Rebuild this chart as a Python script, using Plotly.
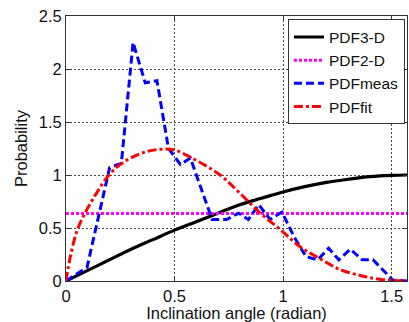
import plotly.graph_objects as go

# Inclination angle samples (radian) and probability densities
x_3d = [0.0, 0.1, 0.2, 0.3, 0.4, 0.5, 0.6, 0.7, 0.8, 0.9, 1.0, 1.1, 1.2, 1.3, 1.4, 1.5, 1.5708]
pdf_3d = [0.0, 0.10, 0.20, 0.30, 0.39, 0.48, 0.56, 0.64, 0.72, 0.78, 0.84, 0.89, 0.93, 0.96, 0.985, 0.997, 1.0]

x_2d = [0.0, 1.5708]
pdf_2d = [0.6366, 0.6366]

x_meas = [0.0, 0.097, 0.201, 0.255, 0.309, 0.365, 0.419, 0.472, 0.527, 0.573, 0.673,
          0.740, 0.795, 0.840, 0.888, 0.940, 0.995, 1.050, 1.105, 1.160, 1.210, 1.257,
          1.310, 1.364, 1.414, 1.505, 1.5708]
pdf_meas = [0.0, 0.13, 1.07, 1.11, 2.25, 1.87, 1.89, 1.25, 1.10, 1.16, 0.58,
            0.58, 0.64, 0.58, 0.72, 0.58, 0.65, 0.42, 0.23, 0.20, 0.31, 0.20,
            0.30, 0.20, 0.20, 0.01, 0.0]

x_fit = [0.0, 0.02, 0.05, 0.09, 0.135, 0.19, 0.25, 0.34, 0.42, 0.50, 0.58, 0.71,
         0.80, 0.895, 0.99, 1.08, 1.17, 1.26, 1.36, 1.45, 1.5708]
pdf_fit = [0.0, 0.23, 0.47, 0.65, 0.81, 0.98, 1.10, 1.20, 1.24, 1.235, 1.16, 1.0,
           0.83, 0.64, 0.48, 0.32, 0.21, 0.11, 0.05, 0.015, 0.0]

x_ticks = [0, 0.5, 1, 1.5]
y_ticks = [0, 0.5, 1, 1.5, 2, 2.5]

FONT = "Arial, Liberation Sans, sans-serif"
TEXT = "#111"

fig = go.Figure()
fig.add_trace(go.Scatter(x=x_3d, y=pdf_3d, mode="lines", name="PDF3-D",
                         line=dict(color="black", width=3.2, shape="spline")))
fig.add_trace(go.Scatter(x=x_2d, y=pdf_2d, mode="lines", name="PDF2-D",
                         line=dict(color="#ff00ff", width=3, dash="3px,2px")))
fig.add_trace(go.Scatter(x=x_meas, y=pdf_meas, mode="lines", name="PDFmeas",
                         line=dict(color="#0000ff", width=3, dash="8px,4px")))
fig.add_trace(go.Scatter(x=x_fit, y=pdf_fit, mode="lines", name="PDFfit",
                         line=dict(color="#ff0000", width=3, shape="spline",
                                   dash="9px,3px,3px,3px")))

axis_common = dict(
    showline=True, linecolor="#333", linewidth=1, mirror="ticks",
    ticks="inside", ticklen=4, tickcolor="#333",
    showgrid=True, gridcolor="#444", gridwidth=1, griddash="2px,2px",
    zeroline=False, tickfont=dict(family=FONT, size=16.5, color=TEXT),
)

fig.update_xaxes(range=[0, 1.5708], tickvals=x_ticks, ticktext=["0", "0.5", "1", "1.5"],
                 title=dict(text="Inclination angle (radian)",
                            font=dict(family=FONT, size=16.5, color=TEXT), standoff=4),
                 **axis_common)
fig.update_yaxes(range=[0, 2.5], tickvals=y_ticks, ticktext=["0", "0.5", "1", "1.5", "2", "2.5"],
                 title=dict(text="Probability",
                            font=dict(family=FONT, size=16.5, color=TEXT), standoff=6),
                 **axis_common)

fig.update_layout(
    width=409, height=322,
    margin=dict(l=66, r=2, t=16, b=41),
    paper_bgcolor="white", plot_bgcolor="white",
    font=dict(family=FONT, size=16.5, color=TEXT),
    legend=dict(x=0.994, y=0.987, xanchor="right", yanchor="top",
                bgcolor="white", bordercolor="#333", borderwidth=1,
                font=dict(family=FONT, size=15.5, color=TEXT),
                tracegroupgap=0, itemwidth=30),
    showlegend=True,
)

fig.write_html("out.html")
